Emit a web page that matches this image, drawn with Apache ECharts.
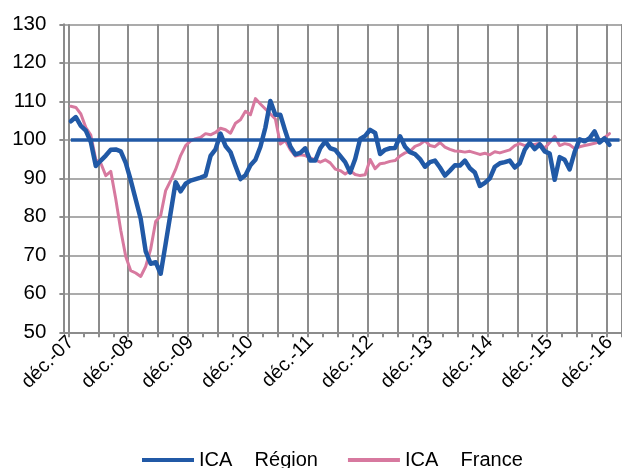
<!DOCTYPE html>
<html>
<head>
<meta charset="utf-8">
<script src="https://cdn.jsdelivr.net/npm/echarts@6/dist/echarts.min.js"></script>
<style>
html,body{margin:0;padding:0;background:#fff;}
#chart{width:622px;height:468px;}
</style>
</head>
<body>
<div id="chart"></div>
<script>
// Month abbreviations used for category labels
const monthAbbr = ['janv.','févr.','mars','avr.','mai','juin','juil.','août','sept.','oct.','nov.','déc.'];
const startYear = 2007, startMonth = 10, monthCount = 112; // nov.-07 .. févr.-17

// Values from déc.-07 to déc.-16 (monthly)
const icaRegion = [104.8,105.9,103.6,102.4,99.4,93.2,94.6,95.9,97.4,97.5,
97.0,94.0,89.5,84.5,79.5,71.0,67.8,68.2,65.2,73.0,
81.0,89.0,86.6,88.6,89.4,89.8,90.2,90.7,95.8,97.5,
101.6,98.4,96.8,93.2,89.8,90.8,93.4,94.8,98.2,103.2,
110.1,106.5,106.5,102.2,98.3,96.2,96.6,97.8,94.6,94.6,
97.8,99.6,97.8,97.4,95.8,94.2,91.5,95.0,100.2,101.0,
102.6,101.8,96.3,97.4,97.8,97.9,100.9,98.2,96.8,96.3,
95.0,93.0,94.2,94.6,92.8,90.7,92.0,93.4,93.3,94.6,
92.6,91.5,88.0,88.8,90.0,93.0,93.9,94.2,94.6,92.8,
93.9,97.4,99.2,97.6,98.8,97.0,96.4,89.6,95.5,94.8,
92.3,96.8,100.1,99.6,100.4,102.2,99.3,100.4,98.7];

const icaFrance = [108.7,108.4,106.7,103.2,101.2,94.8,93.9,90.7,91.8,84.6,
76.5,69.7,66.0,65.4,64.5,67.1,71.6,78.8,80.3,86.8,
89.4,92.3,95.9,98.5,99.7,100.3,100.6,101.6,101.3,101.9,
103.0,102.6,101.7,104.3,105.2,107.4,106.5,110.7,109.3,108.0,
106.7,105.4,98.9,99.8,97.4,95.8,96.1,95.9,95.3,94.8,
94.2,94.8,94.0,92.4,92.0,91.1,92.0,91.0,90.7,90.9,
94.9,92.5,93.8,94.0,94.4,94.6,95.8,96.6,97.0,98.3,
98.8,99.8,98.5,98.2,99.3,98.1,97.5,97.1,97.0,96.8,
97.0,96.6,96.2,96.5,96.1,96.9,96.6,97.0,97.4,98.5,
99.0,98.5,98.8,98.8,99.1,97.8,99.3,100.9,98.5,99.0,
98.7,97.7,98.2,98.5,98.8,99.1,99.5,100.6,101.6];

const referenceValue = 100;
const yTicks = {min: 50, max: 130, interval: 10};
const seriesNames = ['ICA    Région', 'ICA    France'];

const categories = [];
for (let i = 0; i < monthCount; i++) {
  const m = (startMonth + i) % 12;
  const y = startYear + Math.floor((startMonth + i) / 12);
  categories.push(monthAbbr[m] + '-' + String(y % 100).padStart(2, '0'));
}
const firstIdx = categories.indexOf('déc.-07');
const padData = arr => {
  const out = categories.map(() => null);
  arr.forEach((v, i) => { out[firstIdx + i] = v; });
  return out;
};

const FONT = 'Liberation Sans, Arial, sans-serif';
const chart = echarts.init(document.getElementById('chart'), null, {renderer: 'canvas'});
chart.setOption({
  animation: false,
  backgroundColor: '#ffffff',
  grid: {left: 63.4, top: 24.3, right: -6.3, bottom: 135.7, containLabel: false},
  legend: {
    data: seriesNames,
    left: 137, top: 445,
    icon: 'rect', itemWidth: 52, itemHeight: 4, itemGap: 30,
    textStyle: {fontFamily: FONT, fontSize: 20, color: '#000'}
  },
  xAxis: {
    type: 'category',
    data: categories,
    boundaryGap: true,
    axisLine: {show: true, lineStyle: {color: '#8c8c8c', width: 2}},
    axisTick: {show: true, length: 5, interval: (i) => (i - firstIdx) % 3 === 0 && i >= firstIdx, lineStyle: {color: '#8c8c8c', width: 2}},
    axisLabel: {
      interval: (i, v) => v.startsWith('déc.'),
      rotate: 45, margin: 7,
      fontFamily: FONT, fontSize: 19.5, color: '#000'
    },
    splitLine: {show: true, interval: (i) => (i - firstIdx) % 6 === 0 && i >= firstIdx, lineStyle: {color: '#8c8c8c', width: 2}}
  },
  yAxis: {
    type: 'value',
    min: yTicks.min, max: yTicks.max, interval: yTicks.interval,
    axisLine: {show: true, lineStyle: {color: '#8c8c8c', width: 2}},
    axisTick: {show: true, length: 4, lineStyle: {color: '#8c8c8c', width: 2}},
    axisLabel: {fontFamily: FONT, fontSize: 20.5, color: '#000', margin: 17},
    splitLine: {show: true, lineStyle: {color: '#ababab', width: 2}}
  },
  series: [
    {
      name: seriesNames[0], type: 'line', data: padData(icaRegion),
      showSymbol: false, symbol: 'none', z: 4,
      lineStyle: {color: '#2159a6', width: 4.5, join: 'round', cap: 'round'},
      itemStyle: {color: '#2159a6'},
      markLine: {
        silent: true, symbol: 'none', label: {show: false},
        lineStyle: {color: '#2159a6', width: 3.5, type: 'solid'},
        data: [[{coord: ['déc.-07', referenceValue]}, {coord: [categories[categories.length - 1], referenceValue]}]]
      }
    },
    {
      name: seriesNames[1], type: 'line', data: padData(icaFrance),
      showSymbol: false, symbol: 'none', z: 3,
      lineStyle: {color: '#d7799f', width: 3, join: 'round', cap: 'round'},
      itemStyle: {color: '#d7799f'}
    }
  ]
});
</script>
</body>
</html>
